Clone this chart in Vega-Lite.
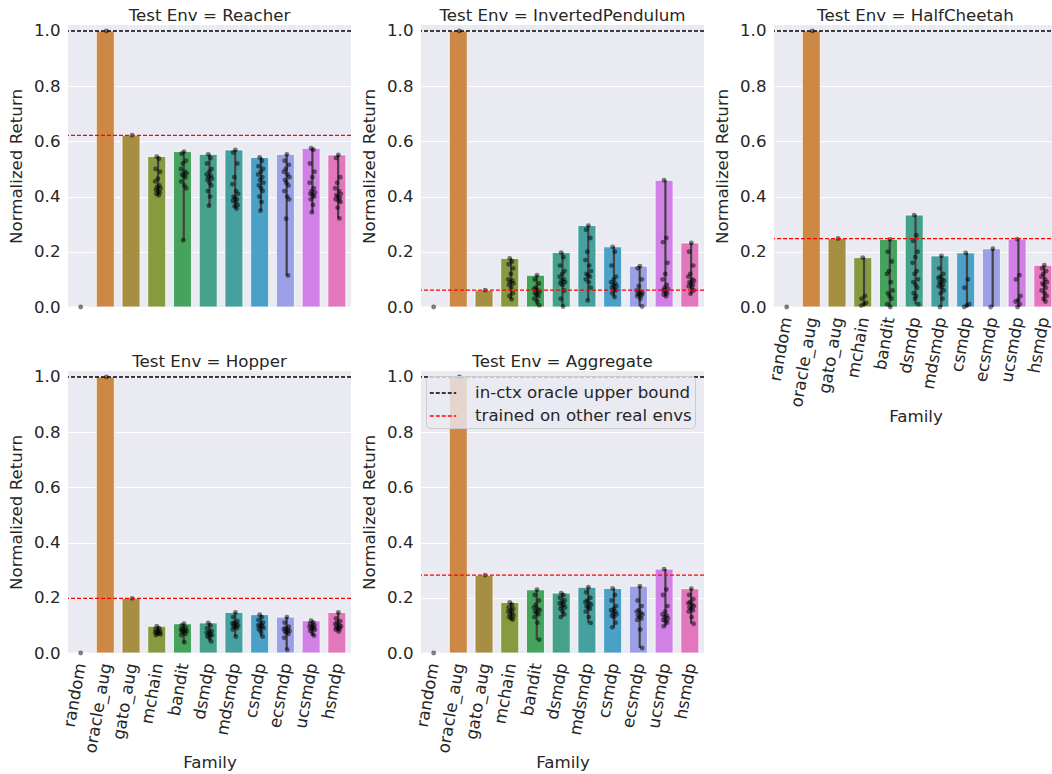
{
"$schema": "https://vega.github.io/schema/vega-lite/v6.json",
"padding": {"left": 8, "top": 8, "right": 0, "bottom": 0},
"background": "white",
"datasets": {
"refs": [
{"env":"Reacher","kind":"in-ctx oracle upper bound","rv":1.0},{"env":"Reacher","kind":"trained on other real envs","rv":0.622},
{"env":"InvertedPendulum","kind":"in-ctx oracle upper bound","rv":1.0},{"env":"InvertedPendulum","kind":"trained on other real envs","rv":0.061},
{"env":"HalfCheetah","kind":"in-ctx oracle upper bound","rv":1.0},{"env":"HalfCheetah","kind":"trained on other real envs","rv":0.248},
{"env":"Hopper","kind":"in-ctx oracle upper bound","rv":1.0},{"env":"Hopper","kind":"trained on other real envs","rv":0.198},
{"env":"Aggregate","kind":"in-ctx oracle upper bound","rv":1.0},{"env":"Aggregate","kind":"trained on other real envs","rv":0.282}
],
"runs": [
{"env":"Reacher","fam":"random","run":8,"v":0.0},{"env":"Reacher","fam":"oracle_aug","run":8,"v":1.0},{"env":"Reacher","fam":"gato_aug","run":8,"v":0.622},
{"env":"Reacher","fam":"mchain","run":5,"v":0.545},{"env":"Reacher","fam":"mchain","run":11,"v":0.537},{"env":"Reacher","fam":"mchain","run":2,"v":0.50},{"env":"Reacher","fam":"mchain","run":14,"v":0.49},{"env":"Reacher","fam":"mchain","run":8,"v":0.465},{"env":"Reacher","fam":"mchain","run":1,"v":0.455},{"env":"Reacher","fam":"mchain","run":12,"v":0.44},{"env":"Reacher","fam":"mchain","run":6,"v":0.435},{"env":"Reacher","fam":"mchain","run":15,"v":0.43},{"env":"Reacher","fam":"mchain","run":3,"v":0.425},{"env":"Reacher","fam":"mchain","run":9,"v":0.42},{"env":"Reacher","fam":"mchain","run":13,"v":0.415},{"env":"Reacher","fam":"mchain","run":4,"v":0.41},{"env":"Reacher","fam":"mchain","run":10,"v":0.405},
{"env":"Reacher","fam":"bandit","run":9,"v":0.563},{"env":"Reacher","fam":"bandit","run":3,"v":0.555},{"env":"Reacher","fam":"bandit","run":14,"v":0.53},{"env":"Reacher","fam":"bandit","run":6,"v":0.52},{"env":"Reacher","fam":"bandit","run":1,"v":0.50},{"env":"Reacher","fam":"bandit","run":11,"v":0.49},{"env":"Reacher","fam":"bandit","run":16,"v":0.485},{"env":"Reacher","fam":"bandit","run":4,"v":0.48},{"env":"Reacher","fam":"bandit","run":8,"v":0.475},{"env":"Reacher","fam":"bandit","run":13,"v":0.47},{"env":"Reacher","fam":"bandit","run":2,"v":0.455},{"env":"Reacher","fam":"bandit","run":10,"v":0.44},{"env":"Reacher","fam":"bandit","run":15,"v":0.43},{"env":"Reacher","fam":"bandit","run":7,"v":0.242},
{"env":"Reacher","fam":"dsmdp","run":5,"v":0.553},{"env":"Reacher","fam":"dsmdp","run":11,"v":0.54},{"env":"Reacher","fam":"dsmdp","run":2,"v":0.52},{"env":"Reacher","fam":"dsmdp","run":14,"v":0.50},{"env":"Reacher","fam":"dsmdp","run":8,"v":0.49},{"env":"Reacher","fam":"dsmdp","run":1,"v":0.48},{"env":"Reacher","fam":"dsmdp","run":12,"v":0.475},{"env":"Reacher","fam":"dsmdp","run":6,"v":0.47},{"env":"Reacher","fam":"dsmdp","run":15,"v":0.465},{"env":"Reacher","fam":"dsmdp","run":3,"v":0.46},{"env":"Reacher","fam":"dsmdp","run":9,"v":0.45},{"env":"Reacher","fam":"dsmdp","run":13,"v":0.44},{"env":"Reacher","fam":"dsmdp","run":4,"v":0.42},{"env":"Reacher","fam":"dsmdp","run":10,"v":0.40},{"env":"Reacher","fam":"dsmdp","run":7,"v":0.367},
{"env":"Reacher","fam":"mdsmdp","run":9,"v":0.569},{"env":"Reacher","fam":"mdsmdp","run":3,"v":0.56},{"env":"Reacher","fam":"mdsmdp","run":14,"v":0.52},{"env":"Reacher","fam":"mdsmdp","run":6,"v":0.47},{"env":"Reacher","fam":"mdsmdp","run":1,"v":0.445},{"env":"Reacher","fam":"mdsmdp","run":11,"v":0.42},{"env":"Reacher","fam":"mdsmdp","run":16,"v":0.41},{"env":"Reacher","fam":"mdsmdp","run":4,"v":0.40},{"env":"Reacher","fam":"mdsmdp","run":8,"v":0.395},{"env":"Reacher","fam":"mdsmdp","run":13,"v":0.39},{"env":"Reacher","fam":"mdsmdp","run":2,"v":0.385},{"env":"Reacher","fam":"mdsmdp","run":10,"v":0.38},{"env":"Reacher","fam":"mdsmdp","run":15,"v":0.37},{"env":"Reacher","fam":"mdsmdp","run":7,"v":0.365},{"env":"Reacher","fam":"mdsmdp","run":12,"v":0.357},
{"env":"Reacher","fam":"csmdp","run":5,"v":0.542},{"env":"Reacher","fam":"csmdp","run":11,"v":0.53},{"env":"Reacher","fam":"csmdp","run":2,"v":0.51},{"env":"Reacher","fam":"csmdp","run":14,"v":0.50},{"env":"Reacher","fam":"csmdp","run":8,"v":0.49},{"env":"Reacher","fam":"csmdp","run":1,"v":0.48},{"env":"Reacher","fam":"csmdp","run":12,"v":0.47},{"env":"Reacher","fam":"csmdp","run":6,"v":0.46},{"env":"Reacher","fam":"csmdp","run":15,"v":0.45},{"env":"Reacher","fam":"csmdp","run":3,"v":0.44},{"env":"Reacher","fam":"csmdp","run":9,"v":0.43},{"env":"Reacher","fam":"csmdp","run":13,"v":0.42},{"env":"Reacher","fam":"csmdp","run":4,"v":0.40},{"env":"Reacher","fam":"csmdp","run":10,"v":0.38},{"env":"Reacher","fam":"csmdp","run":7,"v":0.349},
{"env":"Reacher","fam":"ecsmdp","run":9,"v":0.553},{"env":"Reacher","fam":"ecsmdp","run":3,"v":0.53},{"env":"Reacher","fam":"ecsmdp","run":14,"v":0.515},{"env":"Reacher","fam":"ecsmdp","run":6,"v":0.50},{"env":"Reacher","fam":"ecsmdp","run":1,"v":0.49},{"env":"Reacher","fam":"ecsmdp","run":11,"v":0.48},{"env":"Reacher","fam":"ecsmdp","run":16,"v":0.47},{"env":"Reacher","fam":"ecsmdp","run":4,"v":0.46},{"env":"Reacher","fam":"ecsmdp","run":8,"v":0.45},{"env":"Reacher","fam":"ecsmdp","run":13,"v":0.44},{"env":"Reacher","fam":"ecsmdp","run":2,"v":0.42},{"env":"Reacher","fam":"ecsmdp","run":10,"v":0.40},{"env":"Reacher","fam":"ecsmdp","run":15,"v":0.39},{"env":"Reacher","fam":"ecsmdp","run":7,"v":0.32},{"env":"Reacher","fam":"ecsmdp","run":12,"v":0.114},
{"env":"Reacher","fam":"ucsmdp","run":5,"v":0.575},{"env":"Reacher","fam":"ucsmdp","run":11,"v":0.57},{"env":"Reacher","fam":"ucsmdp","run":2,"v":0.52},{"env":"Reacher","fam":"ucsmdp","run":14,"v":0.49},{"env":"Reacher","fam":"ucsmdp","run":8,"v":0.47},{"env":"Reacher","fam":"ucsmdp","run":1,"v":0.45},{"env":"Reacher","fam":"ucsmdp","run":12,"v":0.43},{"env":"Reacher","fam":"ucsmdp","run":6,"v":0.42},{"env":"Reacher","fam":"ucsmdp","run":15,"v":0.415},{"env":"Reacher","fam":"ucsmdp","run":3,"v":0.41},{"env":"Reacher","fam":"ucsmdp","run":9,"v":0.405},{"env":"Reacher","fam":"ucsmdp","run":13,"v":0.40},{"env":"Reacher","fam":"ucsmdp","run":4,"v":0.39},{"env":"Reacher","fam":"ucsmdp","run":10,"v":0.37},{"env":"Reacher","fam":"ucsmdp","run":7,"v":0.343},
{"env":"Reacher","fam":"hsmdp","run":9,"v":0.551},{"env":"Reacher","fam":"hsmdp","run":3,"v":0.54},{"env":"Reacher","fam":"hsmdp","run":14,"v":0.47},{"env":"Reacher","fam":"hsmdp","run":6,"v":0.45},{"env":"Reacher","fam":"hsmdp","run":1,"v":0.43},{"env":"Reacher","fam":"hsmdp","run":11,"v":0.42},{"env":"Reacher","fam":"hsmdp","run":16,"v":0.41},{"env":"Reacher","fam":"hsmdp","run":4,"v":0.405},{"env":"Reacher","fam":"hsmdp","run":8,"v":0.40},{"env":"Reacher","fam":"hsmdp","run":13,"v":0.395},{"env":"Reacher","fam":"hsmdp","run":2,"v":0.39},{"env":"Reacher","fam":"hsmdp","run":10,"v":0.385},{"env":"Reacher","fam":"hsmdp","run":15,"v":0.38},{"env":"Reacher","fam":"hsmdp","run":7,"v":0.36},{"env":"Reacher","fam":"hsmdp","run":12,"v":0.321},

{"env":"InvertedPendulum","fam":"random","run":8,"v":0.0},{"env":"InvertedPendulum","fam":"oracle_aug","run":8,"v":1.0},{"env":"InvertedPendulum","fam":"gato_aug","run":8,"v":0.061},
{"env":"InvertedPendulum","fam":"mchain","run":5,"v":0.176},{"env":"InvertedPendulum","fam":"mchain","run":11,"v":0.165},{"env":"InvertedPendulum","fam":"mchain","run":2,"v":0.155},{"env":"InvertedPendulum","fam":"mchain","run":14,"v":0.14},{"env":"InvertedPendulum","fam":"mchain","run":8,"v":0.12},{"env":"InvertedPendulum","fam":"mchain","run":1,"v":0.10},{"env":"InvertedPendulum","fam":"mchain","run":12,"v":0.095},{"env":"InvertedPendulum","fam":"mchain","run":6,"v":0.09},{"env":"InvertedPendulum","fam":"mchain","run":15,"v":0.085},{"env":"InvertedPendulum","fam":"mchain","run":3,"v":0.08},{"env":"InvertedPendulum","fam":"mchain","run":9,"v":0.07},{"env":"InvertedPendulum","fam":"mchain","run":13,"v":0.05},{"env":"InvertedPendulum","fam":"mchain","run":4,"v":0.04},{"env":"InvertedPendulum","fam":"mchain","run":10,"v":0.028},
{"env":"InvertedPendulum","fam":"bandit","run":9,"v":0.115},{"env":"InvertedPendulum","fam":"bandit","run":3,"v":0.10},{"env":"InvertedPendulum","fam":"bandit","run":14,"v":0.085},{"env":"InvertedPendulum","fam":"bandit","run":6,"v":0.07},{"env":"InvertedPendulum","fam":"bandit","run":1,"v":0.065},{"env":"InvertedPendulum","fam":"bandit","run":11,"v":0.06},{"env":"InvertedPendulum","fam":"bandit","run":16,"v":0.055},{"env":"InvertedPendulum","fam":"bandit","run":4,"v":0.05},{"env":"InvertedPendulum","fam":"bandit","run":8,"v":0.045},{"env":"InvertedPendulum","fam":"bandit","run":13,"v":0.04},{"env":"InvertedPendulum","fam":"bandit","run":2,"v":0.03},{"env":"InvertedPendulum","fam":"bandit","run":10,"v":0.02},{"env":"InvertedPendulum","fam":"bandit","run":15,"v":0.006},
{"env":"InvertedPendulum","fam":"dsmdp","run":5,"v":0.197},{"env":"InvertedPendulum","fam":"dsmdp","run":11,"v":0.18},{"env":"InvertedPendulum","fam":"dsmdp","run":2,"v":0.15},{"env":"InvertedPendulum","fam":"dsmdp","run":14,"v":0.13},{"env":"InvertedPendulum","fam":"dsmdp","run":8,"v":0.12},{"env":"InvertedPendulum","fam":"dsmdp","run":1,"v":0.11},{"env":"InvertedPendulum","fam":"dsmdp","run":12,"v":0.10},{"env":"InvertedPendulum","fam":"dsmdp","run":6,"v":0.095},{"env":"InvertedPendulum","fam":"dsmdp","run":15,"v":0.09},{"env":"InvertedPendulum","fam":"dsmdp","run":3,"v":0.085},{"env":"InvertedPendulum","fam":"dsmdp","run":9,"v":0.08},{"env":"InvertedPendulum","fam":"dsmdp","run":13,"v":0.06},{"env":"InvertedPendulum","fam":"dsmdp","run":4,"v":0.03},{"env":"InvertedPendulum","fam":"dsmdp","run":10,"v":0.002},
{"env":"InvertedPendulum","fam":"mdsmdp","run":9,"v":0.295},{"env":"InvertedPendulum","fam":"mdsmdp","run":3,"v":0.28},{"env":"InvertedPendulum","fam":"mdsmdp","run":14,"v":0.25},{"env":"InvertedPendulum","fam":"mdsmdp","run":6,"v":0.20},{"env":"InvertedPendulum","fam":"mdsmdp","run":1,"v":0.17},{"env":"InvertedPendulum","fam":"mdsmdp","run":11,"v":0.15},{"env":"InvertedPendulum","fam":"mdsmdp","run":16,"v":0.13},{"env":"InvertedPendulum","fam":"mdsmdp","run":4,"v":0.12},{"env":"InvertedPendulum","fam":"mdsmdp","run":8,"v":0.115},{"env":"InvertedPendulum","fam":"mdsmdp","run":13,"v":0.11},{"env":"InvertedPendulum","fam":"mdsmdp","run":2,"v":0.10},{"env":"InvertedPendulum","fam":"mdsmdp","run":10,"v":0.09},{"env":"InvertedPendulum","fam":"mdsmdp","run":15,"v":0.07},{"env":"InvertedPendulum","fam":"mdsmdp","run":7,"v":0.024},
{"env":"InvertedPendulum","fam":"csmdp","run":5,"v":0.218},{"env":"InvertedPendulum","fam":"csmdp","run":11,"v":0.20},{"env":"InvertedPendulum","fam":"csmdp","run":2,"v":0.15},{"env":"InvertedPendulum","fam":"csmdp","run":14,"v":0.11},{"env":"InvertedPendulum","fam":"csmdp","run":8,"v":0.10},{"env":"InvertedPendulum","fam":"csmdp","run":1,"v":0.09},{"env":"InvertedPendulum","fam":"csmdp","run":12,"v":0.085},{"env":"InvertedPendulum","fam":"csmdp","run":6,"v":0.08},{"env":"InvertedPendulum","fam":"csmdp","run":15,"v":0.075},{"env":"InvertedPendulum","fam":"csmdp","run":3,"v":0.07},{"env":"InvertedPendulum","fam":"csmdp","run":9,"v":0.065},{"env":"InvertedPendulum","fam":"csmdp","run":13,"v":0.06},{"env":"InvertedPendulum","fam":"csmdp","run":4,"v":0.05},{"env":"InvertedPendulum","fam":"csmdp","run":10,"v":0.036},
{"env":"InvertedPendulum","fam":"ecsmdp","run":9,"v":0.148},{"env":"InvertedPendulum","fam":"ecsmdp","run":3,"v":0.14},{"env":"InvertedPendulum","fam":"ecsmdp","run":14,"v":0.10},{"env":"InvertedPendulum","fam":"ecsmdp","run":6,"v":0.075},{"env":"InvertedPendulum","fam":"ecsmdp","run":1,"v":0.06},{"env":"InvertedPendulum","fam":"ecsmdp","run":11,"v":0.055},{"env":"InvertedPendulum","fam":"ecsmdp","run":16,"v":0.05},{"env":"InvertedPendulum","fam":"ecsmdp","run":4,"v":0.048},{"env":"InvertedPendulum","fam":"ecsmdp","run":8,"v":0.045},{"env":"InvertedPendulum","fam":"ecsmdp","run":13,"v":0.042},{"env":"InvertedPendulum","fam":"ecsmdp","run":2,"v":0.04},{"env":"InvertedPendulum","fam":"ecsmdp","run":10,"v":0.03},{"env":"InvertedPendulum","fam":"ecsmdp","run":15,"v":0.002},
{"env":"InvertedPendulum","fam":"ucsmdp","run":5,"v":0.459},{"env":"InvertedPendulum","fam":"ucsmdp","run":11,"v":0.25},{"env":"InvertedPendulum","fam":"ucsmdp","run":2,"v":0.235},{"env":"InvertedPendulum","fam":"ucsmdp","run":14,"v":0.16},{"env":"InvertedPendulum","fam":"ucsmdp","run":8,"v":0.12},{"env":"InvertedPendulum","fam":"ucsmdp","run":1,"v":0.10},{"env":"InvertedPendulum","fam":"ucsmdp","run":12,"v":0.08},{"env":"InvertedPendulum","fam":"ucsmdp","run":6,"v":0.07},{"env":"InvertedPendulum","fam":"ucsmdp","run":15,"v":0.065},{"env":"InvertedPendulum","fam":"ucsmdp","run":3,"v":0.06},{"env":"InvertedPendulum","fam":"ucsmdp","run":9,"v":0.055},{"env":"InvertedPendulum","fam":"ucsmdp","run":13,"v":0.05},{"env":"InvertedPendulum","fam":"ucsmdp","run":4,"v":0.045},{"env":"InvertedPendulum","fam":"ucsmdp","run":10,"v":0.039},
{"env":"InvertedPendulum","fam":"hsmdp","run":9,"v":0.232},{"env":"InvertedPendulum","fam":"hsmdp","run":3,"v":0.20},{"env":"InvertedPendulum","fam":"hsmdp","run":14,"v":0.15},{"env":"InvertedPendulum","fam":"hsmdp","run":6,"v":0.12},{"env":"InvertedPendulum","fam":"hsmdp","run":1,"v":0.11},{"env":"InvertedPendulum","fam":"hsmdp","run":11,"v":0.10},{"env":"InvertedPendulum","fam":"hsmdp","run":16,"v":0.095},{"env":"InvertedPendulum","fam":"hsmdp","run":4,"v":0.09},{"env":"InvertedPendulum","fam":"hsmdp","run":8,"v":0.085},{"env":"InvertedPendulum","fam":"hsmdp","run":13,"v":0.08},{"env":"InvertedPendulum","fam":"hsmdp","run":2,"v":0.075},{"env":"InvertedPendulum","fam":"hsmdp","run":10,"v":0.07},{"env":"InvertedPendulum","fam":"hsmdp","run":15,"v":0.06},{"env":"InvertedPendulum","fam":"hsmdp","run":7,"v":0.048},

{"env":"HalfCheetah","fam":"random","run":8,"v":0.0},{"env":"HalfCheetah","fam":"oracle_aug","run":8,"v":1.0},{"env":"HalfCheetah","fam":"gato_aug","run":8,"v":0.248},
{"env":"HalfCheetah","fam":"mchain","run":5,"v":0.179},{"env":"HalfCheetah","fam":"mchain","run":11,"v":0.04},{"env":"HalfCheetah","fam":"mchain","run":2,"v":0.03},{"env":"HalfCheetah","fam":"mchain","run":14,"v":0.015},{"env":"HalfCheetah","fam":"mchain","run":8,"v":0.01},{"env":"HalfCheetah","fam":"mchain","run":1,"v":0.005},
{"env":"HalfCheetah","fam":"bandit","run":9,"v":0.245},{"env":"HalfCheetah","fam":"bandit","run":3,"v":0.20},{"env":"HalfCheetah","fam":"bandit","run":14,"v":0.165},{"env":"HalfCheetah","fam":"bandit","run":6,"v":0.13},{"env":"HalfCheetah","fam":"bandit","run":1,"v":0.12},{"env":"HalfCheetah","fam":"bandit","run":11,"v":0.09},{"env":"HalfCheetah","fam":"bandit","run":16,"v":0.06},{"env":"HalfCheetah","fam":"bandit","run":4,"v":0.05},{"env":"HalfCheetah","fam":"bandit","run":8,"v":0.04},{"env":"HalfCheetah","fam":"bandit","run":13,"v":0.03},{"env":"HalfCheetah","fam":"bandit","run":2,"v":0.01},{"env":"HalfCheetah","fam":"bandit","run":10,"v":0.0},
{"env":"HalfCheetah","fam":"dsmdp","run":5,"v":0.333},{"env":"HalfCheetah","fam":"dsmdp","run":11,"v":0.26},{"env":"HalfCheetah","fam":"dsmdp","run":2,"v":0.24},{"env":"HalfCheetah","fam":"dsmdp","run":14,"v":0.20},{"env":"HalfCheetah","fam":"dsmdp","run":8,"v":0.18},{"env":"HalfCheetah","fam":"dsmdp","run":1,"v":0.16},{"env":"HalfCheetah","fam":"dsmdp","run":12,"v":0.13},{"env":"HalfCheetah","fam":"dsmdp","run":6,"v":0.12},{"env":"HalfCheetah","fam":"dsmdp","run":15,"v":0.10},{"env":"HalfCheetah","fam":"dsmdp","run":3,"v":0.09},{"env":"HalfCheetah","fam":"dsmdp","run":9,"v":0.08},{"env":"HalfCheetah","fam":"dsmdp","run":13,"v":0.07},{"env":"HalfCheetah","fam":"dsmdp","run":4,"v":0.05},{"env":"HalfCheetah","fam":"dsmdp","run":10,"v":0.04},{"env":"HalfCheetah","fam":"dsmdp","run":7,"v":0.03},{"env":"HalfCheetah","fam":"dsmdp","run":16,"v":0.01},
{"env":"HalfCheetah","fam":"mdsmdp","run":9,"v":0.185},{"env":"HalfCheetah","fam":"mdsmdp","run":3,"v":0.14},{"env":"HalfCheetah","fam":"mdsmdp","run":14,"v":0.12},{"env":"HalfCheetah","fam":"mdsmdp","run":6,"v":0.11},{"env":"HalfCheetah","fam":"mdsmdp","run":1,"v":0.105},{"env":"HalfCheetah","fam":"mdsmdp","run":11,"v":0.10},{"env":"HalfCheetah","fam":"mdsmdp","run":16,"v":0.095},{"env":"HalfCheetah","fam":"mdsmdp","run":4,"v":0.09},{"env":"HalfCheetah","fam":"mdsmdp","run":8,"v":0.085},{"env":"HalfCheetah","fam":"mdsmdp","run":13,"v":0.08},{"env":"HalfCheetah","fam":"mdsmdp","run":2,"v":0.075},{"env":"HalfCheetah","fam":"mdsmdp","run":10,"v":0.07},{"env":"HalfCheetah","fam":"mdsmdp","run":15,"v":0.06},{"env":"HalfCheetah","fam":"mdsmdp","run":7,"v":0.05},{"env":"HalfCheetah","fam":"mdsmdp","run":12,"v":0.03},{"env":"HalfCheetah","fam":"mdsmdp","run":5,"v":0.0},
{"env":"HalfCheetah","fam":"csmdp","run":5,"v":0.196},{"env":"HalfCheetah","fam":"csmdp","run":11,"v":0.10},{"env":"HalfCheetah","fam":"csmdp","run":2,"v":0.07},{"env":"HalfCheetah","fam":"csmdp","run":14,"v":0.01},{"env":"HalfCheetah","fam":"csmdp","run":8,"v":0.005},{"env":"HalfCheetah","fam":"csmdp","run":1,"v":0.0},
{"env":"HalfCheetah","fam":"ecsmdp","run":9,"v":0.211},{"env":"HalfCheetah","fam":"ecsmdp","run":3,"v":0.0},
{"env":"HalfCheetah","fam":"ucsmdp","run":5,"v":0.246},{"env":"HalfCheetah","fam":"ucsmdp","run":11,"v":0.115},{"env":"HalfCheetah","fam":"ucsmdp","run":2,"v":0.10},{"env":"HalfCheetah","fam":"ucsmdp","run":14,"v":0.04},{"env":"HalfCheetah","fam":"ucsmdp","run":8,"v":0.025},{"env":"HalfCheetah","fam":"ucsmdp","run":1,"v":0.02},{"env":"HalfCheetah","fam":"ucsmdp","run":12,"v":0.01},{"env":"HalfCheetah","fam":"ucsmdp","run":6,"v":0.0},
{"env":"HalfCheetah","fam":"hsmdp","run":9,"v":0.151},{"env":"HalfCheetah","fam":"hsmdp","run":3,"v":0.14},{"env":"HalfCheetah","fam":"hsmdp","run":14,"v":0.13},{"env":"HalfCheetah","fam":"hsmdp","run":6,"v":0.12},{"env":"HalfCheetah","fam":"hsmdp","run":1,"v":0.11},{"env":"HalfCheetah","fam":"hsmdp","run":11,"v":0.10},{"env":"HalfCheetah","fam":"hsmdp","run":16,"v":0.09},{"env":"HalfCheetah","fam":"hsmdp","run":4,"v":0.085},{"env":"HalfCheetah","fam":"hsmdp","run":8,"v":0.08},{"env":"HalfCheetah","fam":"hsmdp","run":13,"v":0.07},{"env":"HalfCheetah","fam":"hsmdp","run":2,"v":0.06},{"env":"HalfCheetah","fam":"hsmdp","run":10,"v":0.05},{"env":"HalfCheetah","fam":"hsmdp","run":15,"v":0.04},{"env":"HalfCheetah","fam":"hsmdp","run":7,"v":0.03},{"env":"HalfCheetah","fam":"hsmdp","run":12,"v":0.02},

{"env":"Hopper","fam":"random","run":8,"v":0.0},{"env":"Hopper","fam":"oracle_aug","run":8,"v":1.0},{"env":"Hopper","fam":"gato_aug","run":8,"v":0.198},
{"env":"Hopper","fam":"mchain","run":5,"v":0.097},{"env":"Hopper","fam":"mchain","run":11,"v":0.09},{"env":"Hopper","fam":"mchain","run":2,"v":0.085},{"env":"Hopper","fam":"mchain","run":14,"v":0.08},{"env":"Hopper","fam":"mchain","run":8,"v":0.078},{"env":"Hopper","fam":"mchain","run":1,"v":0.075},{"env":"Hopper","fam":"mchain","run":12,"v":0.072},{"env":"Hopper","fam":"mchain","run":6,"v":0.07},{"env":"Hopper","fam":"mchain","run":15,"v":0.068},{"env":"Hopper","fam":"mchain","run":3,"v":0.065},
{"env":"Hopper","fam":"bandit","run":9,"v":0.106},{"env":"Hopper","fam":"bandit","run":3,"v":0.10},{"env":"Hopper","fam":"bandit","run":14,"v":0.092},{"env":"Hopper","fam":"bandit","run":6,"v":0.088},{"env":"Hopper","fam":"bandit","run":1,"v":0.085},{"env":"Hopper","fam":"bandit","run":11,"v":0.082},{"env":"Hopper","fam":"bandit","run":16,"v":0.08},{"env":"Hopper","fam":"bandit","run":4,"v":0.078},{"env":"Hopper","fam":"bandit","run":8,"v":0.075},{"env":"Hopper","fam":"bandit","run":13,"v":0.07},{"env":"Hopper","fam":"bandit","run":2,"v":0.065},{"env":"Hopper","fam":"bandit","run":10,"v":0.039},
{"env":"Hopper","fam":"dsmdp","run":5,"v":0.109},{"env":"Hopper","fam":"dsmdp","run":11,"v":0.10},{"env":"Hopper","fam":"dsmdp","run":2,"v":0.09},{"env":"Hopper","fam":"dsmdp","run":14,"v":0.08},{"env":"Hopper","fam":"dsmdp","run":8,"v":0.077},{"env":"Hopper","fam":"dsmdp","run":1,"v":0.074},{"env":"Hopper","fam":"dsmdp","run":12,"v":0.07},{"env":"Hopper","fam":"dsmdp","run":6,"v":0.067},{"env":"Hopper","fam":"dsmdp","run":15,"v":0.064},{"env":"Hopper","fam":"dsmdp","run":3,"v":0.06},{"env":"Hopper","fam":"dsmdp","run":9,"v":0.055},{"env":"Hopper","fam":"dsmdp","run":13,"v":0.042},
{"env":"Hopper","fam":"mdsmdp","run":9,"v":0.147},{"env":"Hopper","fam":"mdsmdp","run":3,"v":0.13},{"env":"Hopper","fam":"mdsmdp","run":14,"v":0.115},{"env":"Hopper","fam":"mdsmdp","run":6,"v":0.11},{"env":"Hopper","fam":"mdsmdp","run":1,"v":0.107},{"env":"Hopper","fam":"mdsmdp","run":11,"v":0.104},{"env":"Hopper","fam":"mdsmdp","run":16,"v":0.10},{"env":"Hopper","fam":"mdsmdp","run":4,"v":0.097},{"env":"Hopper","fam":"mdsmdp","run":8,"v":0.094},{"env":"Hopper","fam":"mdsmdp","run":13,"v":0.09},{"env":"Hopper","fam":"mdsmdp","run":2,"v":0.085},{"env":"Hopper","fam":"mdsmdp","run":10,"v":0.06},
{"env":"Hopper","fam":"csmdp","run":5,"v":0.139},{"env":"Hopper","fam":"csmdp","run":11,"v":0.13},{"env":"Hopper","fam":"csmdp","run":2,"v":0.12},{"env":"Hopper","fam":"csmdp","run":14,"v":0.11},{"env":"Hopper","fam":"csmdp","run":8,"v":0.105},{"env":"Hopper","fam":"csmdp","run":1,"v":0.10},{"env":"Hopper","fam":"csmdp","run":12,"v":0.097},{"env":"Hopper","fam":"csmdp","run":6,"v":0.094},{"env":"Hopper","fam":"csmdp","run":15,"v":0.09},{"env":"Hopper","fam":"csmdp","run":3,"v":0.085},{"env":"Hopper","fam":"csmdp","run":9,"v":0.075},{"env":"Hopper","fam":"csmdp","run":13,"v":0.06},
{"env":"Hopper","fam":"ecsmdp","run":9,"v":0.13},{"env":"Hopper","fam":"ecsmdp","run":3,"v":0.11},{"env":"Hopper","fam":"ecsmdp","run":14,"v":0.095},{"env":"Hopper","fam":"ecsmdp","run":6,"v":0.09},{"env":"Hopper","fam":"ecsmdp","run":1,"v":0.087},{"env":"Hopper","fam":"ecsmdp","run":11,"v":0.084},{"env":"Hopper","fam":"ecsmdp","run":16,"v":0.08},{"env":"Hopper","fam":"ecsmdp","run":4,"v":0.077},{"env":"Hopper","fam":"ecsmdp","run":8,"v":0.074},{"env":"Hopper","fam":"ecsmdp","run":13,"v":0.07},{"env":"Hopper","fam":"ecsmdp","run":2,"v":0.055},{"env":"Hopper","fam":"ecsmdp","run":10,"v":0.012},
{"env":"Hopper","fam":"ucsmdp","run":5,"v":0.117},{"env":"Hopper","fam":"ucsmdp","run":11,"v":0.11},{"env":"Hopper","fam":"ucsmdp","run":2,"v":0.105},{"env":"Hopper","fam":"ucsmdp","run":14,"v":0.10},{"env":"Hopper","fam":"ucsmdp","run":8,"v":0.097},{"env":"Hopper","fam":"ucsmdp","run":1,"v":0.094},{"env":"Hopper","fam":"ucsmdp","run":12,"v":0.09},{"env":"Hopper","fam":"ucsmdp","run":6,"v":0.087},{"env":"Hopper","fam":"ucsmdp","run":15,"v":0.084},{"env":"Hopper","fam":"ucsmdp","run":3,"v":0.08},{"env":"Hopper","fam":"ucsmdp","run":9,"v":0.07},{"env":"Hopper","fam":"ucsmdp","run":13,"v":0.063},
{"env":"Hopper","fam":"hsmdp","run":9,"v":0.147},{"env":"Hopper","fam":"hsmdp","run":3,"v":0.125},{"env":"Hopper","fam":"hsmdp","run":14,"v":0.115},{"env":"Hopper","fam":"hsmdp","run":6,"v":0.11},{"env":"Hopper","fam":"hsmdp","run":1,"v":0.105},{"env":"Hopper","fam":"hsmdp","run":11,"v":0.10},{"env":"Hopper","fam":"hsmdp","run":16,"v":0.097},{"env":"Hopper","fam":"hsmdp","run":4,"v":0.094},{"env":"Hopper","fam":"hsmdp","run":8,"v":0.09},{"env":"Hopper","fam":"hsmdp","run":13,"v":0.088},{"env":"Hopper","fam":"hsmdp","run":2,"v":0.085},{"env":"Hopper","fam":"hsmdp","run":10,"v":0.078},

{"env":"Aggregate","fam":"random","run":8,"v":0.0},{"env":"Aggregate","fam":"oracle_aug","run":8,"v":1.0},{"env":"Aggregate","fam":"gato_aug","run":8,"v":0.282},
{"env":"Aggregate","fam":"mchain","run":5,"v":0.183},{"env":"Aggregate","fam":"mchain","run":11,"v":0.175},{"env":"Aggregate","fam":"mchain","run":2,"v":0.165},{"env":"Aggregate","fam":"mchain","run":14,"v":0.16},{"env":"Aggregate","fam":"mchain","run":8,"v":0.155},{"env":"Aggregate","fam":"mchain","run":1,"v":0.15},{"env":"Aggregate","fam":"mchain","run":12,"v":0.145},{"env":"Aggregate","fam":"mchain","run":6,"v":0.14},{"env":"Aggregate","fam":"mchain","run":15,"v":0.135},{"env":"Aggregate","fam":"mchain","run":3,"v":0.13},{"env":"Aggregate","fam":"mchain","run":9,"v":0.125},{"env":"Aggregate","fam":"mchain","run":13,"v":0.121},
{"env":"Aggregate","fam":"bandit","run":9,"v":0.229},{"env":"Aggregate","fam":"bandit","run":3,"v":0.21},{"env":"Aggregate","fam":"bandit","run":14,"v":0.19},{"env":"Aggregate","fam":"bandit","run":6,"v":0.175},{"env":"Aggregate","fam":"bandit","run":1,"v":0.165},{"env":"Aggregate","fam":"bandit","run":11,"v":0.16},{"env":"Aggregate","fam":"bandit","run":16,"v":0.155},{"env":"Aggregate","fam":"bandit","run":4,"v":0.15},{"env":"Aggregate","fam":"bandit","run":8,"v":0.145},{"env":"Aggregate","fam":"bandit","run":13,"v":0.14},{"env":"Aggregate","fam":"bandit","run":2,"v":0.13},{"env":"Aggregate","fam":"bandit","run":10,"v":0.11},{"env":"Aggregate","fam":"bandit","run":15,"v":0.048},
{"env":"Aggregate","fam":"dsmdp","run":5,"v":0.217},{"env":"Aggregate","fam":"dsmdp","run":11,"v":0.21},{"env":"Aggregate","fam":"dsmdp","run":2,"v":0.20},{"env":"Aggregate","fam":"dsmdp","run":14,"v":0.19},{"env":"Aggregate","fam":"dsmdp","run":8,"v":0.185},{"env":"Aggregate","fam":"dsmdp","run":1,"v":0.18},{"env":"Aggregate","fam":"dsmdp","run":12,"v":0.175},{"env":"Aggregate","fam":"dsmdp","run":6,"v":0.17},{"env":"Aggregate","fam":"dsmdp","run":15,"v":0.165},{"env":"Aggregate","fam":"dsmdp","run":3,"v":0.16},{"env":"Aggregate","fam":"dsmdp","run":9,"v":0.15},{"env":"Aggregate","fam":"dsmdp","run":13,"v":0.14},{"env":"Aggregate","fam":"dsmdp","run":4,"v":0.13},
{"env":"Aggregate","fam":"mdsmdp","run":9,"v":0.238},{"env":"Aggregate","fam":"mdsmdp","run":3,"v":0.22},{"env":"Aggregate","fam":"mdsmdp","run":14,"v":0.20},{"env":"Aggregate","fam":"mdsmdp","run":6,"v":0.19},{"env":"Aggregate","fam":"mdsmdp","run":1,"v":0.185},{"env":"Aggregate","fam":"mdsmdp","run":11,"v":0.18},{"env":"Aggregate","fam":"mdsmdp","run":16,"v":0.175},{"env":"Aggregate","fam":"mdsmdp","run":4,"v":0.17},{"env":"Aggregate","fam":"mdsmdp","run":8,"v":0.165},{"env":"Aggregate","fam":"mdsmdp","run":13,"v":0.16},{"env":"Aggregate","fam":"mdsmdp","run":2,"v":0.15},{"env":"Aggregate","fam":"mdsmdp","run":10,"v":0.13},{"env":"Aggregate","fam":"mdsmdp","run":15,"v":0.109},
{"env":"Aggregate","fam":"csmdp","run":5,"v":0.234},{"env":"Aggregate","fam":"csmdp","run":11,"v":0.21},{"env":"Aggregate","fam":"csmdp","run":2,"v":0.19},{"env":"Aggregate","fam":"csmdp","run":14,"v":0.17},{"env":"Aggregate","fam":"csmdp","run":8,"v":0.16},{"env":"Aggregate","fam":"csmdp","run":1,"v":0.155},{"env":"Aggregate","fam":"csmdp","run":12,"v":0.15},{"env":"Aggregate","fam":"csmdp","run":6,"v":0.145},{"env":"Aggregate","fam":"csmdp","run":15,"v":0.14},{"env":"Aggregate","fam":"csmdp","run":3,"v":0.135},{"env":"Aggregate","fam":"csmdp","run":9,"v":0.13},{"env":"Aggregate","fam":"csmdp","run":13,"v":0.11},{"env":"Aggregate","fam":"csmdp","run":4,"v":0.093},
{"env":"Aggregate","fam":"ecsmdp","run":9,"v":0.242},{"env":"Aggregate","fam":"ecsmdp","run":3,"v":0.19},{"env":"Aggregate","fam":"ecsmdp","run":14,"v":0.17},{"env":"Aggregate","fam":"ecsmdp","run":6,"v":0.155},{"env":"Aggregate","fam":"ecsmdp","run":1,"v":0.15},{"env":"Aggregate","fam":"ecsmdp","run":11,"v":0.145},{"env":"Aggregate","fam":"ecsmdp","run":16,"v":0.14},{"env":"Aggregate","fam":"ecsmdp","run":4,"v":0.135},{"env":"Aggregate","fam":"ecsmdp","run":8,"v":0.13},{"env":"Aggregate","fam":"ecsmdp","run":13,"v":0.125},{"env":"Aggregate","fam":"ecsmdp","run":2,"v":0.12},{"env":"Aggregate","fam":"ecsmdp","run":10,"v":0.085},{"env":"Aggregate","fam":"ecsmdp","run":15,"v":0.018},
{"env":"Aggregate","fam":"ucsmdp","run":5,"v":0.304},{"env":"Aggregate","fam":"ucsmdp","run":11,"v":0.23},{"env":"Aggregate","fam":"ucsmdp","run":2,"v":0.21},{"env":"Aggregate","fam":"ucsmdp","run":14,"v":0.17},{"env":"Aggregate","fam":"ucsmdp","run":8,"v":0.15},{"env":"Aggregate","fam":"ucsmdp","run":1,"v":0.14},{"env":"Aggregate","fam":"ucsmdp","run":12,"v":0.135},{"env":"Aggregate","fam":"ucsmdp","run":6,"v":0.13},{"env":"Aggregate","fam":"ucsmdp","run":15,"v":0.125},{"env":"Aggregate","fam":"ucsmdp","run":3,"v":0.12},{"env":"Aggregate","fam":"ucsmdp","run":9,"v":0.115},{"env":"Aggregate","fam":"ucsmdp","run":13,"v":0.11},{"env":"Aggregate","fam":"ucsmdp","run":4,"v":0.097},
{"env":"Aggregate","fam":"hsmdp","run":9,"v":0.233},{"env":"Aggregate","fam":"hsmdp","run":3,"v":0.21},{"env":"Aggregate","fam":"hsmdp","run":14,"v":0.195},{"env":"Aggregate","fam":"hsmdp","run":6,"v":0.185},{"env":"Aggregate","fam":"hsmdp","run":1,"v":0.18},{"env":"Aggregate","fam":"hsmdp","run":11,"v":0.175},{"env":"Aggregate","fam":"hsmdp","run":16,"v":0.17},{"env":"Aggregate","fam":"hsmdp","run":4,"v":0.165},{"env":"Aggregate","fam":"hsmdp","run":8,"v":0.16},{"env":"Aggregate","fam":"hsmdp","run":13,"v":0.155},{"env":"Aggregate","fam":"hsmdp","run":2,"v":0.15},{"env":"Aggregate","fam":"hsmdp","run":10,"v":0.13},{"env":"Aggregate","fam":"hsmdp","run":15,"v":0.106}
]
},
"hconcat": [
{"vconcat": [
{"width":283,"height":282,"title":"Test Env = Reacher","data":{"name":"runs"},"transform":[{"filter":"datum.env === 'Reacher'"}],
"layer":[
{"mark":{"type":"bar","stroke":"white","strokeWidth":0.8},"encoding":{"x":{"field":"fam","type":"nominal","title":"Family","scale":{"domain":["random","oracle_aug","gato_aug","mchain","bandit","dsmdp","mdsmdp","csmdp","ecsmdp","ucsmdp","hsmdp"],"paddingInner":0.2,"paddingOuter":0.1},"axis":null},"y":{"aggregate":"max","field":"v","type":"quantitative","title":"Normalized Return","scale":{"domain":[0,1.0217],"nice":false},"axis":{"values":[0,0.2,0.4,0.6,0.8,1.0],"format":".1f"}},"fill":{"field":"fam","type":"nominal","scale":{"domain":["random","oracle_aug","gato_aug","mchain","bandit","dsmdp","mdsmdp","csmdp","ecsmdp","ucsmdp","hsmdp"],"range":["#D9838E","#CC8844","#A68F42","#869A40","#45A35D","#45A18A","#46A09F","#4BA0C7","#9A9FE6","#D180E6","#E377BE"]},"legend":null}}},
{"mark":{"type":"rule","color":"#424242","strokeWidth":2.2},"encoding":{"x":{"field":"fam","type":"nominal","title":"Family"},"y":{"aggregate":"min","field":"v","type":"quantitative","title":"Normalized Return"},"y2":{"aggregate":"max","field":"v"}}},
{"mark":{"type":"circle","color":"black","opacity":0.5,"size":24},"encoding":{"x":{"field":"fam","type":"nominal","title":"Family"},"xOffset":{"field":"run","type":"nominal","scale":{"domain":[1,2,3,4,5,6,7,8,9,10,11,12,13,14,15,16],"range":[7.3,13.3]}},"y":{"field":"v","type":"quantitative","title":"Normalized Return"}}},
{"data":{"name":"refs"},"transform":[{"filter":"datum.env === 'Reacher'"}],"mark":{"type":"rule","strokeDash":[4,2],"strokeWidth":1.3},"encoding":{"y":{"field":"rv","type":"quantitative","title":"Normalized Return"},"stroke":{"field":"kind","type":"nominal","scale":{"domain":["in-ctx oracle upper bound","trained on other real envs"],"range":["black","red"]},"legend":null}}}
]},
{"width":283,"height":282,"title":"Test Env = Hopper","data":{"name":"runs"},"transform":[{"filter":"datum.env === 'Hopper'"}],
"layer":[
{"mark":{"type":"bar","stroke":"white","strokeWidth":0.8},"encoding":{"x":{"field":"fam","type":"nominal","title":"Family","scale":{"domain":["random","oracle_aug","gato_aug","mchain","bandit","dsmdp","mdsmdp","csmdp","ecsmdp","ucsmdp","hsmdp"],"paddingInner":0.2,"paddingOuter":0.1}},"y":{"aggregate":"max","field":"v","type":"quantitative","title":"Normalized Return","scale":{"domain":[0,1.0217],"nice":false},"axis":{"values":[0,0.2,0.4,0.6,0.8,1.0],"format":".1f"}},"fill":{"field":"fam","type":"nominal","scale":{"domain":["random","oracle_aug","gato_aug","mchain","bandit","dsmdp","mdsmdp","csmdp","ecsmdp","ucsmdp","hsmdp"],"range":["#D9838E","#CC8844","#A68F42","#869A40","#45A35D","#45A18A","#46A09F","#4BA0C7","#9A9FE6","#D180E6","#E377BE"]},"legend":null}}},
{"mark":{"type":"rule","color":"#424242","strokeWidth":2.2},"encoding":{"x":{"field":"fam","type":"nominal","title":"Family"},"y":{"aggregate":"min","field":"v","type":"quantitative","title":"Normalized Return"},"y2":{"aggregate":"max","field":"v"}}},
{"mark":{"type":"circle","color":"black","opacity":0.5,"size":24},"encoding":{"x":{"field":"fam","type":"nominal","title":"Family"},"xOffset":{"field":"run","type":"nominal","scale":{"domain":[1,2,3,4,5,6,7,8,9,10,11,12,13,14,15,16],"range":[7.3,13.3]}},"y":{"field":"v","type":"quantitative","title":"Normalized Return"}}},
{"data":{"name":"refs"},"transform":[{"filter":"datum.env === 'Hopper'"}],"mark":{"type":"rule","strokeDash":[4,2],"strokeWidth":1.3},"encoding":{"y":{"field":"rv","type":"quantitative","title":"Normalized Return"},"stroke":{"field":"kind","type":"nominal","scale":{"domain":["in-ctx oracle upper bound","trained on other real envs"],"range":["black","red"]},"legend":null}}}
]}
],"spacing":38,"resolve":{"scale":{"stroke":"independent"},"legend":{"stroke":"independent"}}},
{"vconcat": [
{"width":283,"height":282,"title":"Test Env = InvertedPendulum","data":{"name":"runs"},"transform":[{"filter":"datum.env === 'InvertedPendulum'"}],
"layer":[
{"mark":{"type":"bar","stroke":"white","strokeWidth":0.8},"encoding":{"x":{"field":"fam","type":"nominal","title":"Family","scale":{"domain":["random","oracle_aug","gato_aug","mchain","bandit","dsmdp","mdsmdp","csmdp","ecsmdp","ucsmdp","hsmdp"],"paddingInner":0.2,"paddingOuter":0.1},"axis":null},"y":{"aggregate":"max","field":"v","type":"quantitative","title":"Normalized Return","scale":{"domain":[0,1.0217],"nice":false},"axis":{"values":[0,0.2,0.4,0.6,0.8,1.0],"format":".1f"}},"fill":{"field":"fam","type":"nominal","scale":{"domain":["random","oracle_aug","gato_aug","mchain","bandit","dsmdp","mdsmdp","csmdp","ecsmdp","ucsmdp","hsmdp"],"range":["#D9838E","#CC8844","#A68F42","#869A40","#45A35D","#45A18A","#46A09F","#4BA0C7","#9A9FE6","#D180E6","#E377BE"]},"legend":null}}},
{"mark":{"type":"rule","color":"#424242","strokeWidth":2.2},"encoding":{"x":{"field":"fam","type":"nominal","title":"Family"},"y":{"aggregate":"min","field":"v","type":"quantitative","title":"Normalized Return"},"y2":{"aggregate":"max","field":"v"}}},
{"mark":{"type":"circle","color":"black","opacity":0.5,"size":24},"encoding":{"x":{"field":"fam","type":"nominal","title":"Family"},"xOffset":{"field":"run","type":"nominal","scale":{"domain":[1,2,3,4,5,6,7,8,9,10,11,12,13,14,15,16],"range":[7.3,13.3]}},"y":{"field":"v","type":"quantitative","title":"Normalized Return"}}},
{"data":{"name":"refs"},"transform":[{"filter":"datum.env === 'InvertedPendulum'"}],"mark":{"type":"rule","strokeDash":[4,2],"strokeWidth":1.3},"encoding":{"y":{"field":"rv","type":"quantitative","title":"Normalized Return"},"stroke":{"field":"kind","type":"nominal","scale":{"domain":["in-ctx oracle upper bound","trained on other real envs"],"range":["black","red"]},"legend":null}}}
]},
{"width":283,"height":282,"title":"Test Env = Aggregate","data":{"name":"runs"},"transform":[{"filter":"datum.env === 'Aggregate'"}],
"layer":[
{"mark":{"type":"bar","stroke":"white","strokeWidth":0.8},"encoding":{"x":{"field":"fam","type":"nominal","title":"Family","scale":{"domain":["random","oracle_aug","gato_aug","mchain","bandit","dsmdp","mdsmdp","csmdp","ecsmdp","ucsmdp","hsmdp"],"paddingInner":0.2,"paddingOuter":0.1}},"y":{"aggregate":"max","field":"v","type":"quantitative","title":"Normalized Return","scale":{"domain":[0,1.0217],"nice":false},"axis":{"values":[0,0.2,0.4,0.6,0.8,1.0],"format":".1f"}},"fill":{"field":"fam","type":"nominal","scale":{"domain":["random","oracle_aug","gato_aug","mchain","bandit","dsmdp","mdsmdp","csmdp","ecsmdp","ucsmdp","hsmdp"],"range":["#D9838E","#CC8844","#A68F42","#869A40","#45A35D","#45A18A","#46A09F","#4BA0C7","#9A9FE6","#D180E6","#E377BE"]},"legend":null}}},
{"mark":{"type":"rule","color":"#424242","strokeWidth":2.2},"encoding":{"x":{"field":"fam","type":"nominal","title":"Family"},"y":{"aggregate":"min","field":"v","type":"quantitative","title":"Normalized Return"},"y2":{"aggregate":"max","field":"v"}}},
{"mark":{"type":"circle","color":"black","opacity":0.5,"size":24},"encoding":{"x":{"field":"fam","type":"nominal","title":"Family"},"xOffset":{"field":"run","type":"nominal","scale":{"domain":[1,2,3,4,5,6,7,8,9,10,11,12,13,14,15,16],"range":[7.3,13.3]}},"y":{"field":"v","type":"quantitative","title":"Normalized Return"}}},
{"data":{"name":"refs"},"transform":[{"filter":"datum.env === 'Aggregate'"}],"mark":{"type":"rule","strokeDash":[4,2],"strokeWidth":1.3},"encoding":{"y":{"field":"rv","type":"quantitative","title":"Normalized Return"},"stroke":{"field":"kind","type":"nominal","scale":{"domain":["in-ctx oracle upper bound","trained on other real envs"],"range":["black","red"]},"legend":{"orient":"top-left","offset":5,"title":null,"symbolType":"stroke","symbolSize":700,"symbolDash":[4,2],"symbolStrokeWidth":1.3,"labelFontSize":16.67,"labelColor":"#262626","fillColor":"rgba(234,234,242,0.8)","strokeColor":"#cccccc","padding":3,"cornerRadius":4,"rowPadding":0,"labelOffset":18,"labelLimit":400}}}}
]}
],"spacing":38,"resolve":{"scale":{"stroke":"independent"},"legend":{"stroke":"independent"}}},
{"vconcat": [
{"width":283,"height":282,"title":"Test Env = HalfCheetah","data":{"name":"runs"},"transform":[{"filter":"datum.env === 'HalfCheetah'"}],
"layer":[
{"mark":{"type":"bar","stroke":"white","strokeWidth":0.8},"encoding":{"x":{"field":"fam","type":"nominal","title":"Family","scale":{"domain":["random","oracle_aug","gato_aug","mchain","bandit","dsmdp","mdsmdp","csmdp","ecsmdp","ucsmdp","hsmdp"],"paddingInner":0.2,"paddingOuter":0.1}},"y":{"aggregate":"max","field":"v","type":"quantitative","title":"Normalized Return","scale":{"domain":[0,1.0217],"nice":false},"axis":{"values":[0,0.2,0.4,0.6,0.8,1.0],"format":".1f"}},"fill":{"field":"fam","type":"nominal","scale":{"domain":["random","oracle_aug","gato_aug","mchain","bandit","dsmdp","mdsmdp","csmdp","ecsmdp","ucsmdp","hsmdp"],"range":["#D9838E","#CC8844","#A68F42","#869A40","#45A35D","#45A18A","#46A09F","#4BA0C7","#9A9FE6","#D180E6","#E377BE"]},"legend":null}}},
{"mark":{"type":"rule","color":"#424242","strokeWidth":2.2},"encoding":{"x":{"field":"fam","type":"nominal","title":"Family"},"y":{"aggregate":"min","field":"v","type":"quantitative","title":"Normalized Return"},"y2":{"aggregate":"max","field":"v"}}},
{"mark":{"type":"circle","color":"black","opacity":0.5,"size":24},"encoding":{"x":{"field":"fam","type":"nominal","title":"Family"},"xOffset":{"field":"run","type":"nominal","scale":{"domain":[1,2,3,4,5,6,7,8,9,10,11,12,13,14,15,16],"range":[7.3,13.3]}},"y":{"field":"v","type":"quantitative","title":"Normalized Return"}}},
{"data":{"name":"refs"},"transform":[{"filter":"datum.env === 'HalfCheetah'"}],"mark":{"type":"rule","strokeDash":[4,2],"strokeWidth":1.3},"encoding":{"y":{"field":"rv","type":"quantitative","title":"Normalized Return"},"stroke":{"field":"kind","type":"nominal","scale":{"domain":["in-ctx oracle upper bound","trained on other real envs"],"range":["black","red"]},"legend":null}}}
]}
],"spacing":38,"resolve":{"scale":{"stroke":"independent"},"legend":{"stroke":"independent"}}}
],
"resolve":{"scale":{"stroke":"independent"},"legend":{"stroke":"independent"}},
"spacing": 9,
"config": {
"font": "DejaVu Sans",
"view": {"fill": "#EAEAF2", "stroke": null},
"title": {"fontSize": 16.67, "fontWeight": "normal", "color": "#262626", "offset": -2},
"axis": {"domain": false, "ticks": false, "grid": false, "labelFontSize": 16.67, "titleFontSize": 16.67, "labelColor": "#262626", "titleColor": "#262626", "titleFontWeight": "normal", "labelPadding": 8, "titlePadding": 8},
"axisY": {"grid": true, "gridColor": "white", "gridWidth": 1},
"axisX": {"labelAngle": -80, "labelPadding": 10, "titlePadding": 0}
}
}
